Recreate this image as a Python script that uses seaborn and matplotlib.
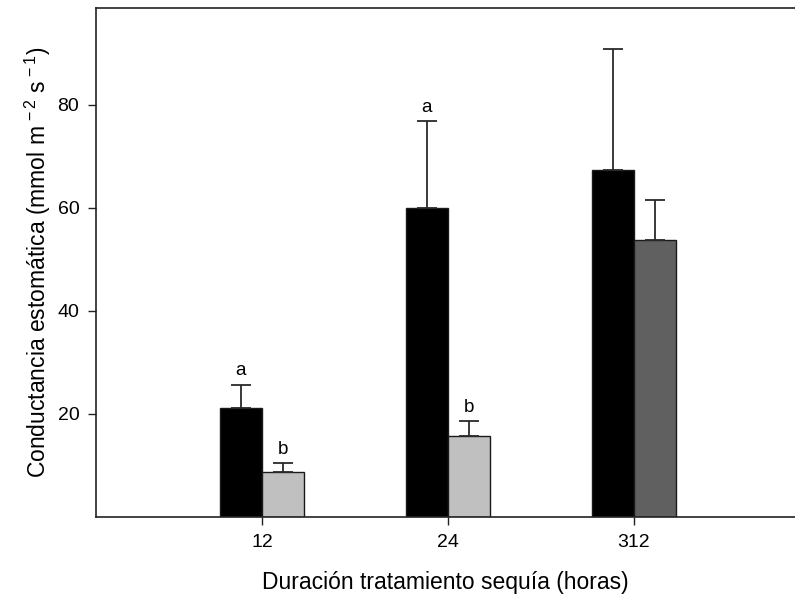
import numpy as np
import pandas as pd
import matplotlib
matplotlib.use('Agg')
import matplotlib.pyplot as plt
import seaborn as sns

# Data
horas = ['12', '24', '312']
control = [21.2, 60.0, 67.4]
control_err = [4.5, 16.8, 23.5]
sequia = [8.8, 15.7, 53.7]
sequia_err = [1.7, 3.0, 7.9]
letras_control = ['a', 'a', '']
letras_sequia = ['b', 'b', '']

df = pd.DataFrame({
    'Horas': horas * 2,
    'Tratamiento': ['Control'] * 3 + ['Sequia'] * 3,
    'Gs': control + sequia,
})
errs = control_err + sequia_err
letras = letras_control + letras_sequia

sns.set_style('ticks')
plt.rcParams['font.family'] = ['Liberation Sans', 'DejaVu Sans']
plt.rcParams['mathtext.fontset'] = 'custom'
plt.rcParams['mathtext.rm'] = 'Liberation Sans'
plt.rcParams['mathtext.it'] = 'Liberation Sans'
plt.rcParams['text.color'] = 'black'
plt.rcParams['axes.labelcolor'] = 'black'
plt.rcParams['xtick.labelcolor'] = 'black'
plt.rcParams['ytick.labelcolor'] = 'black'

fig = plt.figure(figsize=(7.95, 6.03), dpi=100)
ax = fig.add_axes([96 / 795, 86 / 603, 1 - 96 / 795, (517 - 8) / 603])

sns.barplot(data=df, x='Horas', y='Gs', hue='Tratamiento', order=horas,
            palette=['#000000', '#c0c0c0'], width=0.452, gap=0,
            edgecolor='#1a1a1a', linewidth=1, errorbar=None, legend=False, ax=ax)

# bars sorted left to right: 12C, 12S, 24C, 24S, 312C, 312S
bars = sorted([p for p in ax.patches if p.get_height() > 0], key=lambda p: p.get_x())
bars[5].set_facecolor('#606060')  # 312 h drought bar is darker in the original

xs = np.array([b.get_x() + b.get_width() / 2 for b in bars])
hs = np.array([b.get_height() for b in bars])
e_sorted = [errs[0], errs[3], errs[1], errs[4], errs[2], errs[5]]
l_sorted = [letras[0], letras[3], letras[1], letras[4], letras[2], letras[5]]
ax.errorbar(xs, hs, yerr=[np.zeros(6), e_sorted], fmt='none', ecolor='#2a2a2a',
            elinewidth=1.3, capsize=7, capthick=1.3)
for x, h, e, t in zip(xs, hs, e_sorted, l_sorted):
    if t:
        ax.text(x, h + e + 1.0, t, ha='center', va='bottom', fontsize=13.5)

ax.set_xlim(-0.8925, 2.866)
ax.set_ylim(0, 98.8)
ax.set_yticks([20, 40, 60, 80])
ax.tick_params(axis='both', labelsize=14, length=6, width=1, color='#222222',
               direction='out', pad=6)
ax.set_xlabel('Duración tratamiento sequía (horas)', fontsize=16.5, labelpad=15)
ax.set_ylabel(r'Conductancia estomática (mmol m$^{\,-2}$ s$^{\,-1}$)', fontsize=16.5, labelpad=3)

for s in ['left', 'bottom', 'top']:
    ax.spines[s].set_visible(True)
    ax.spines[s].set_linewidth(1.2)
    ax.spines[s].set_color('#222222')
ax.spines['right'].set_visible(False)

fig.savefig('out.png', dpi=100)
